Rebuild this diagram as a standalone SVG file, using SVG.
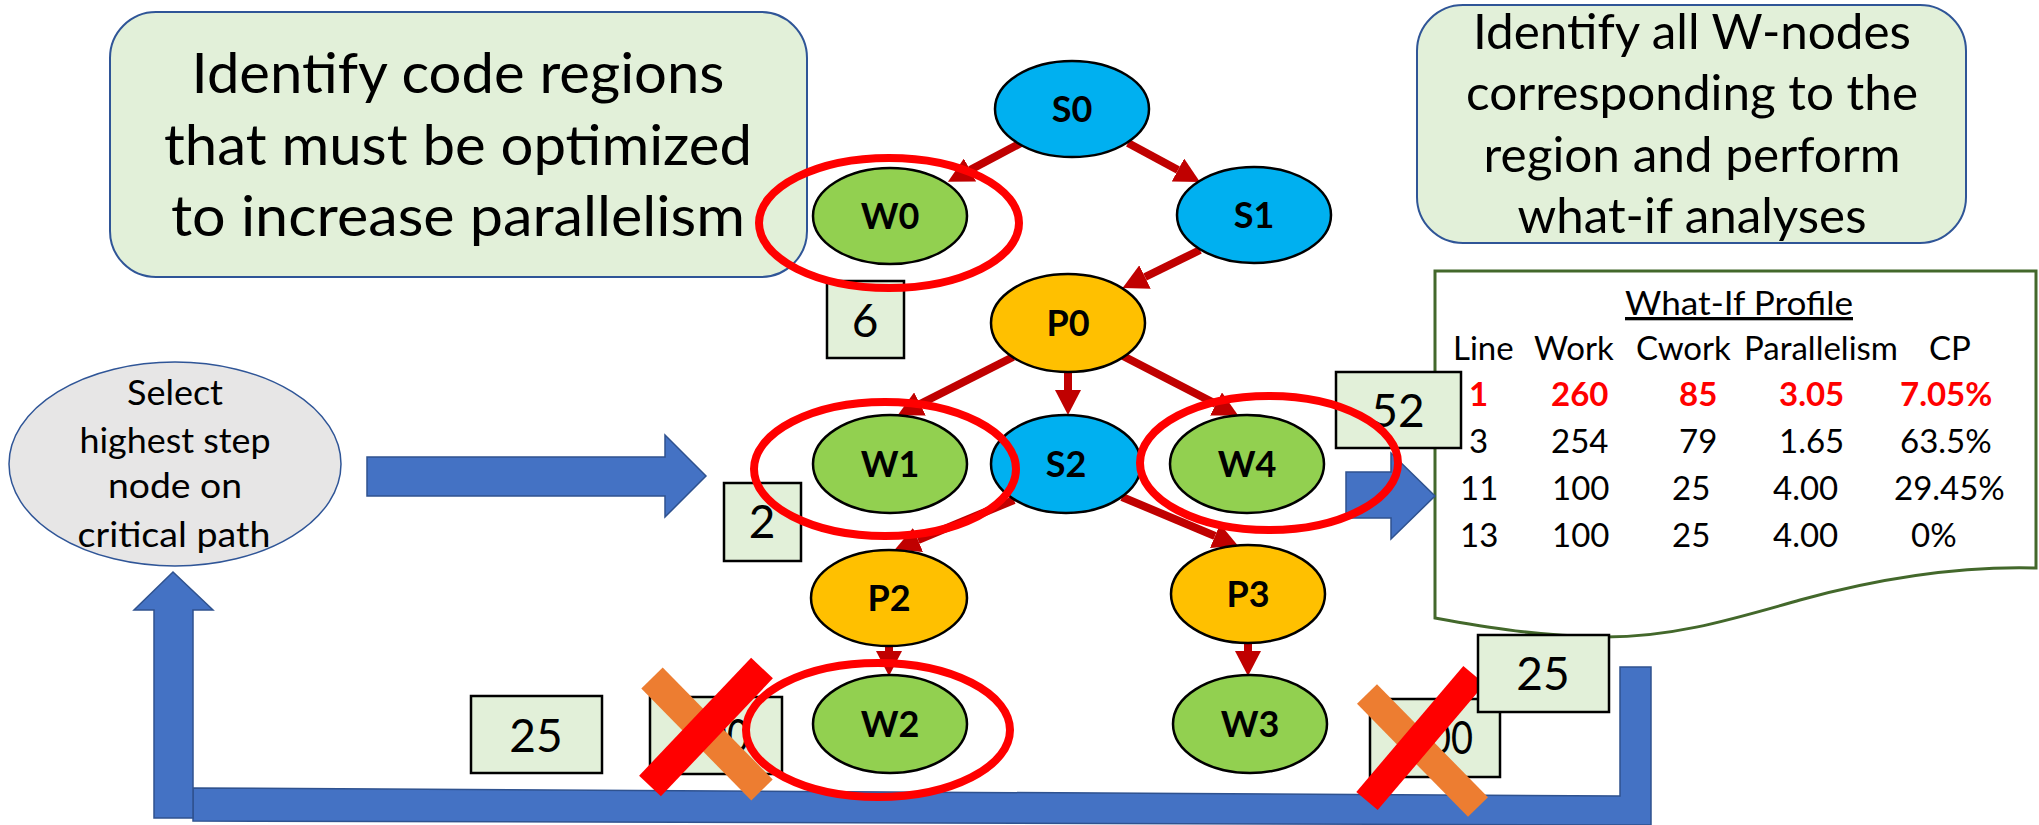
<svg xmlns="http://www.w3.org/2000/svg" width="2039" height="825" viewBox="0 0 2039 825">
<defs>
<marker id="ah" markerUnits="userSpaceOnUse" viewBox="0 0 25 26" markerWidth="25" markerHeight="26" refX="0" refY="13" orient="auto">
<path d="M0,0 L25,13 L0,26 Z" fill="#C00000"/>
</marker>
</defs>
<style>
.tb{fill:#E2F0D9;stroke:#2F5597;stroke-width:2}
.f{font-family:Lato,"Liberation Sans",sans-serif;fill:#000}
.c{text-anchor:middle}
.S{fill:#00B0F0;stroke:#000;stroke-width:2.5}
.W{fill:#92D050;stroke:#000;stroke-width:2.5}
.P{fill:#FFC000;stroke:#000;stroke-width:2.5}
.lbl{font-family:Lato,"Liberation Sans",sans-serif;font-weight:bold;font-size:36px;text-anchor:middle;fill:#000}
.hl{fill:none;stroke:#FF0000;stroke-width:8}
.nb{fill:#E2F0D9;stroke:#000;stroke-width:2.5}
.nt{font-family:Lato,"Liberation Sans",sans-serif;font-size:46px;text-anchor:middle;fill:#000}
.edge{stroke:#C00000;stroke-width:8;fill:none;marker-end:url(#ah)}
.blue{fill:#4472C4;stroke:#2F528F;stroke-width:1.5}
.pt{font-family:Lato,"Liberation Sans",sans-serif;font-size:33px;fill:#000}
.red{fill:#FF0000;font-weight:bold}
</style>

<g id="box-identify-regions">
<rect class="tb" x="110" y="12" width="697" height="265" rx="46" ry="46"/>
<text class="f c" x="458" y="93" font-size="56" textLength="533" lengthAdjust="spacingAndGlyphs">Identify code regions</text>
<text class="f c" x="458" y="165" font-size="56" textLength="588" lengthAdjust="spacingAndGlyphs">that must be optimized</text>
<text class="f c" x="458" y="236" font-size="56" textLength="574" lengthAdjust="spacingAndGlyphs">to increase parallelism</text>
</g>

<g id="box-identify-wnodes">
<rect class="tb" x="1417" y="5" width="549" height="238" rx="46" ry="46"/>
<text class="f c" x="1692" y="49" font-size="48" textLength="438" lengthAdjust="spacingAndGlyphs">Identify all W-nodes</text>
<text class="f c" x="1692" y="110" font-size="48" textLength="452" lengthAdjust="spacingAndGlyphs">corresponding to the</text>
<text class="f c" x="1692" y="172" font-size="48" textLength="417" lengthAdjust="spacingAndGlyphs">region and perform</text>
<text class="f c" x="1692" y="233" font-size="48" textLength="349" lengthAdjust="spacingAndGlyphs">what-if analyses</text>
</g>

<g id="select-node">
<ellipse cx="175" cy="464" rx="166" ry="102" fill="#E7E6E6" stroke="#2F5597" stroke-width="1.5"/>
<text class="f c" x="175" y="405" font-size="35" textLength="96" lengthAdjust="spacingAndGlyphs">Select</text>
<text class="f c" x="175" y="453" font-size="35" textLength="191" lengthAdjust="spacingAndGlyphs">highest step</text>
<text class="f c" x="175" y="498" font-size="35" textLength="134" lengthAdjust="spacingAndGlyphs">node on</text>
<text class="f c" x="174" y="547" font-size="35" textLength="193" lengthAdjust="spacingAndGlyphs">critical path</text>
</g>

<g id="whatif-profile">
<path d="M1435,271 L2036,271 L2036,568 C1960,566 1880,578 1800,600 C1730,620 1670,638 1600,637 C1540,636 1490,628 1435,618 Z" fill="#FFFFFF" stroke="#43682B" stroke-width="3"/>
<text class="pt c" x="1739" y="315" text-decoration="underline" textLength="228" lengthAdjust="spacingAndGlyphs">What-If Profile</text>
<text class="pt" y="360"><tspan x="1453">Line</tspan><tspan x="1534">Work</tspan><tspan x="1636">Cwork</tspan><tspan x="1744">Parallelism</tspan><tspan x="1929">CP</tspan></text>
<text class="pt red" y="406"><tspan x="1469">1</tspan><tspan x="1551">260</tspan><tspan x="1679">85</tspan><tspan x="1779">3.05</tspan><tspan x="1900">7.05%</tspan></text>
<text class="pt" y="453"><tspan x="1469">3</tspan><tspan x="1551">254</tspan><tspan x="1679">79</tspan><tspan x="1779">1.65</tspan><tspan x="1900">63.5%</tspan></text>
<text class="pt" y="500"><tspan x="1460">11</tspan><tspan x="1552">100</tspan><tspan x="1672">25</tspan><tspan x="1773">4.00</tspan><tspan x="1894">29.45%</tspan></text>
<text class="pt" y="547"><tspan x="1460">13</tspan><tspan x="1552">100</tspan><tspan x="1672">25</tspan><tspan x="1773">4.00</tspan><tspan x="1911">0%</tspan></text>
</g>

<g id="flow-arrows">
<polygon class="blue" points="367,457 665,457 665,435 706,476 665,517 665,496 367,496"/>
<polygon class="blue" points="1346,472 1391,472 1391,453 1435,496 1391,539 1391,518 1346,518"/>
<polygon class="blue" points="193,788 1620,796 1620,667 1651,667 1651,825 193,821"/>
<polygon class="blue" points="154,818 154,610 134,610 173,572 213,610 193,610 193,818"/>
</g>

<g id="connectors">
<line class="edge" x1="1021" y1="143" x2="970" y2="170"/>
<line class="edge" x1="1128" y1="143" x2="1178" y2="170"/>
<line class="edge" x1="1200" y1="250" x2="1145" y2="277"/>
<line class="edge" x1="1013" y1="357" x2="920" y2="404"/>
<line class="edge" x1="1068" y1="370" x2="1068" y2="390"/>
<line class="edge" x1="1123" y1="356" x2="1216" y2="404"/>
<line class="edge" x1="1014" y1="500" x2="918" y2="540"/>
<line class="edge" x1="1122" y1="497" x2="1215" y2="536"/>
<line class="edge" x1="889" y1="644" x2="889" y2="651"/>
<line class="edge" x1="1248" y1="641" x2="1248" y2="651"/>
</g>

<g id="S0"><ellipse class="S" cx="1072" cy="109" rx="77" ry="48"/><text class="lbl" x="1072" y="122">S0</text></g>
<g id="W0"><ellipse class="W" cx="890" cy="216" rx="77" ry="48"/><text class="lbl" x="890" y="229">W0</text></g>
<g id="S1"><ellipse class="S" cx="1254" cy="215" rx="77" ry="48"/><text class="lbl" x="1254" y="228">S1</text></g>
<g id="P0"><ellipse class="P" cx="1068" cy="323" rx="77" ry="49"/><text class="lbl" x="1068" y="336">P0</text></g>
<g id="W1"><ellipse class="W" cx="890" cy="464" rx="77" ry="49"/><text class="lbl" x="890" y="477">W1</text></g>
<g id="S2"><ellipse class="S" cx="1066" cy="464" rx="75" ry="49"/><text class="lbl" x="1066" y="477">S2</text></g>
<g id="W4"><ellipse class="W" cx="1247" cy="464" rx="77" ry="49"/><text class="lbl" x="1247" y="477">W4</text></g>
<g id="P2"><ellipse class="P" cx="889" cy="598" rx="78" ry="48"/><text class="lbl" x="889" y="611">P2</text></g>
<g id="P3"><ellipse class="P" cx="1248" cy="594" rx="77" ry="49"/><text class="lbl" x="1248" y="607">P3</text></g>
<g id="W2"><ellipse class="W" cx="890" cy="724" rx="77" ry="49"/><text class="lbl" x="890" y="737">W2</text></g>
<g id="W3"><ellipse class="W" cx="1250" cy="724" rx="77" ry="49"/><text class="lbl" x="1250" y="737">W3</text></g>

<g id="box-6"><rect class="nb" x="827" y="281" width="77" height="77"/><text class="nt" x="865" y="337">6</text></g>
<g id="box-2"><rect class="nb" x="724" y="483" width="77" height="78"/><text class="nt" x="762" y="538">2</text></g>
<g id="box-52"><rect class="nb" x="1336" y="372" width="125" height="76"/><text class="nt" x="1398" y="427">52</text></g>
<g id="box-25-left"><rect class="nb" x="471" y="696" width="131" height="77"/><text class="nt" x="536" y="752">25</text></g>
<g id="box-100-left"><rect class="nb" x="650" y="697" width="132" height="77"/><text class="nt" x="749" y="752" text-anchor="end" textLength="66" lengthAdjust="spacingAndGlyphs" style="text-anchor:end">100</text></g>
<g id="box-100-right"><rect class="nb" x="1370" y="699" width="130" height="78"/><text class="nt" x="1473" y="754" textLength="66" lengthAdjust="spacingAndGlyphs" style="text-anchor:end">100</text></g>

<g id="highlights">
<ellipse class="hl" cx="889" cy="223" rx="130" ry="65"/>
<ellipse class="hl" cx="885" cy="469" rx="131" ry="67"/>
<ellipse class="hl" cx="1269" cy="463" rx="129" ry="67"/>
<ellipse class="hl" cx="878" cy="730" rx="132" ry="67"/>
</g>

<g id="cross-left">
<line x1="652" y1="678" x2="762" y2="790" stroke="#ED7D31" stroke-width="30"/>
<line x1="650" y1="786" x2="762" y2="668" stroke="#FF0000" stroke-width="30"/>
</g>
<g id="cross-right">
<line x1="1367" y1="694" x2="1478" y2="807" stroke="#ED7D31" stroke-width="28"/>
<line x1="1367" y1="801" x2="1474" y2="675" stroke="#FF0000" stroke-width="28"/>
</g>

<g id="box-25-right"><rect class="nb" x="1478" y="635" width="131" height="77"/><text class="nt" x="1543" y="690">25</text></g>
</svg>
